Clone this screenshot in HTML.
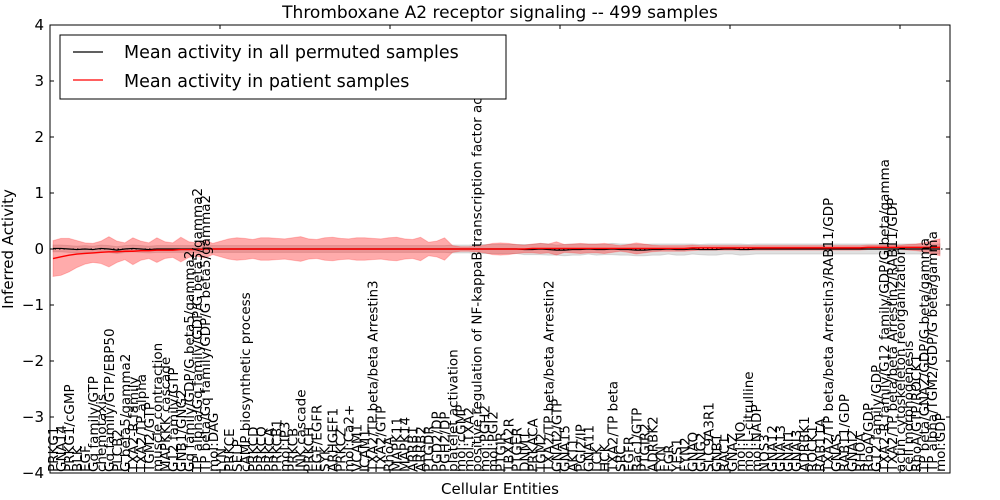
<!DOCTYPE html>
<html><head><meta charset="utf-8"><style>
html,body{margin:0;padding:0;background:#fff;}
svg{display:block;font-family:"DejaVu Sans","Liberation Sans",sans-serif;}
</style></head><body>
<svg id="chart" width="1000" height="500">
<text x="500" y="18" text-anchor="middle" font-size="17">Thromboxane A2 receptor signaling -- 499 samples</text>
<g id="bands"></g>
<g id="lines"></g>
<g id="labels"></g>
<rect x="50" y="25" width="900" height="448" fill="none" stroke="#000" stroke-width="1"/>
<g id="yaxis"></g>
<text x="500" y="494" text-anchor="middle" font-size="15">Cellular Entities</text>
<text transform="translate(13,249) rotate(-90)" text-anchor="middle" font-size="15">Inferred Activity</text>
<g>
<rect x="60" y="35" width="446" height="64" fill="#fff" stroke="#000" stroke-width="1"/>
<line x1="73" y1="52" x2="103" y2="52" stroke="#000" stroke-width="1.2"/>
<text x="124" y="58" font-size="17.5">Mean activity in all permuted samples</text>
<line x1="73" y1="80" x2="103" y2="80" stroke="#f00" stroke-width="1.2"/>
<text x="124" y="87" font-size="17.5">Mean activity in patient samples</text>
</g>
</svg>
<script>
const categories = [
"PRKG1","GNA14","PRKG1/cGMP","BLK","EGF","Gq family/GTP","chemotaxis","Gq family/GTP/EBP50","PLCB2","G beta5/gamma2",
"TXA2-R family","TXA2/TP alpha","TGM2/GTP","muscle contraction","MAPKKK cascade","G12 family/GTP","GNB1/GNG2","Gq family/GDP/G beta5/gamma2","TP alpha/Gq family/GDP/G beta5/gamma2","TP beta/Gq family/GDP/G beta5/gamma2",
"mol:DAG","LYN","PRKCE","SELP","cAMP biosynthetic process","PRKCD","PRKCQ","PRKCA","PRKCB1","mol:IP3",
"PRKCB","JNK cascade","PRKCH","EGF/EGFR","SYK","ARHGEF1","PRKCZ","mol:Ca2+","VCAM1","ICAM1",
"TXA2/TP beta/beta Arrestin3","TXA2/GTP","RhoA","MAPK11","MAPK14","ARRB1","ARRB2","PTGDR","PGD2/DP","PGH2/DP",
"platelet activation","mol:cGMP","mol:TXA2","positive regulation of NF-kappaB transcription factor activity","mol:PGH2","mol:PGI2","PTGIR","TBXA2R","PTGER","DNM1",
"PRKACA","TGM2","TXA2/TP beta/beta Arrestin2","GNAI2/GTP","GNA15","AKT1","PGI2/IP","GNA11","LCK","HCK",
"TXA2/TP beta","SRC","EGFR","Rac1/GTP","PTGIR2","ADRBK2","FYN","FGR","YES1","FYN2",
"GNAQ","GNG2","SLC9A3R1","GNB1","RAC1","GNAZ","mol:NO","mol:L-citrulline","mol:NADP","NOS3",
"GNA12","GNA13","GNAI1","GNAI3","ADRBK1","ROCK1","RAB11A","TXA2/TP beta/beta Arrestin3/RAB11/GDP","GNAS","RAB11/GDP",
"GNAI2","RHOA","RhoA/GDP","G12 family/GDP","TXA2-R family/G12 family/GDP/G beta/gamma","TXA2/TP beta/beta Arrestin2/RAB11/GDP","actin cytoskeleton reorganization","cell morphogenesis","RhoA/GTP/ROCK1","TP beta/GNAZ/GDP/G beta/gamma",
"TP alpha/TGM2/GDP/G beta/gamma","mol:GDP"];
const permutedMean = [
0.01,0.01,0.0,-0.01,0.0,-0.01,0.01,0.0,-0.02,0.0,0.01,0.0,-0.01,0.0,0.0,0.0,0.0,0.0,0.0,0.0,0.0,0.0,0.0,0.0,0.0,
0.0,0.0,0.0,0.0,0.0,0.0,0.0,0.0,0.0,0.0,0.0,0.0,0.0,0.0,0.0,0.0,0.0,0.0,0.0,0.0,0.0,0.0,0.0,0.0,0.0,
0.0,0.0,0.0,0.0,0.0,0.0,0.0,0.0,0.0,-0.01,-0.01,0.0,-0.01,-0.02,-0.02,-0.01,-0.01,0.0,-0.01,-0.01,0.0,-0.01,-0.01,-0.02,-0.02,
-0.01,-0.01,0.0,-0.01,-0.01,0.0,-0.01,-0.01,-0.01,0.0,0.0,-0.01,-0.01,0.0,0.0,0.0,0.0,0.0,0.0,0.0,0.0,0.0,0.0,0.0,0.0,
0.0,0.0,0.0,0.0,0.0,0.0,0.0,0.0,0.0,0.0,0.0,0.0];
const patientMean = [
-0.17,-0.14,-0.11,-0.09,-0.08,-0.07,-0.06,-0.05,-0.05,-0.04,-0.04,-0.03,-0.03,-0.02,-0.02,-0.02,-0.01,-0.01,-0.01,0.0,0.0,0.0,0.0,0.0,0.0,
0.0,0.0,0.0,0.0,0.0,0.0,0.0,0.0,0.0,0.0,0.0,0.0,0.0,0.0,0.0,0.0,0.0,0.0,0.0,0.0,0.0,0.0,0.0,0.0,0.0,
0.0,0.0,0.0,0.0,0.0,0.0,0.0,0.0,0.0,0.0,0.01,0.01,0.01,0.01,0.01,0.01,0.01,0.01,0.01,0.01,0.01,0.01,0.01,0.01,0.01,
0.01,0.01,0.01,0.01,0.01,0.02,0.02,0.02,0.02,0.02,0.02,0.02,0.02,0.02,0.02,0.02,0.02,0.02,0.02,0.02,0.02,0.02,0.02,0.02,0.02,
0.02,0.02,0.03,0.03,0.03,0.03,0.03,0.03,0.03,0.03,0.03,0.03];
const patientSpread = [
0.32,0.33,0.3,0.24,0.19,0.17,0.2,0.27,0.19,0.15,0.24,0.17,0.14,0.22,0.15,0.13,0.22,0.14,0.12,0.16,0.1,0.14,0.18,0.2,0.19,
0.17,0.2,0.2,0.19,0.18,0.2,0.22,0.18,0.17,0.2,0.21,0.19,0.18,0.2,0.2,0.19,0.18,0.2,0.21,0.18,0.17,0.21,0.12,0.14,0.2,
0.06,0.04,0.04,0.05,0.07,0.1,0.11,0.1,0.08,0.07,0.08,0.09,0.08,0.12,0.07,0.08,0.09,0.08,0.08,0.09,0.07,0.05,0.07,0.1,0.08,
0.06,0.05,0.05,0.05,0.05,0.05,0.04,0.04,0.04,0.04,0.04,0.04,0.04,0.04,0.04,0.04,0.04,0.04,0.04,0.04,0.04,0.04,0.04,0.04,0.04,
0.04,0.04,0.04,0.04,0.04,0.04,0.04,0.05,0.06,0.08,0.12,0.15];
const permutedSpread = [
0.06,0.06,0.06,0.06,0.06,0.06,0.06,0.06,0.06,0.06,0.06,0.06,0.06,0.06,0.06,0.06,0.06,0.06,0.06,0.06,0.06,0.06,0.06,0.06,0.06,
0.06,0.06,0.06,0.06,0.06,0.06,0.06,0.06,0.06,0.06,0.06,0.06,0.06,0.06,0.06,0.06,0.06,0.06,0.06,0.06,0.06,0.06,0.06,0.06,0.06,
0.07,0.07,0.07,0.08,0.08,0.08,0.08,0.08,0.08,0.09,0.09,0.1,0.1,0.09,0.1,0.1,0.1,0.09,0.1,0.09,0.1,0.1,0.1,0.1,0.1,
0.1,0.1,0.09,0.1,0.1,0.09,0.09,0.1,0.1,0.09,0.09,0.1,0.09,0.09,0.09,0.09,0.09,0.09,0.09,0.09,0.09,0.09,0.09,0.09,0.09,
0.09,0.09,0.09,0.09,0.09,0.09,0.09,0.09,0.09,0.09,0.09,0.09];
const yTicks = [4,3,2,1,0,-1,-2,-3,-4];
const yTickLabels = ["4","3","2","1","0","\u22121","\u22122","\u22123","\u22124"];

const NS="http://www.w3.org/2000/svg";
const L=50,R=950,T=25,B=473;
const n=categories.length;
const xs=i=>53+i*(887/(n-1));
const ys=v=>T+(4-v)*(B-T)/8;
function mk(tag,attrs,parent){const e=document.createElementNS(NS,tag);for(const k in attrs)e.setAttribute(k,attrs[k]);parent.appendChild(e);return e;}
function band(mean,spread){const m=Math.min(mean.length,spread.length);let up=[],dn=[];for(let i=0;i<m;i++){up.push(xs(i)+","+ys(mean[i]+spread[i]));dn.unshift(xs(i)+","+ys(mean[i]-spread[i]));}return up.concat(dn).join(" ");}
const bands=document.getElementById('bands');
const gb=mk('polygon',{points:band(permutedMean,permutedSpread),fill:'#bbbbbb','fill-opacity':'0.45',stroke:'#aaa','stroke-opacity':'0.4'},bands);


const rb=mk('polygon',{points:band(patientMean,patientSpread),fill:'#f00','fill-opacity':'0.33',stroke:'#f00','stroke-opacity':'0.2'},bands);


const lines=document.getElementById('lines');
const zl=mk('line',{x1:L,x2:R,y1:ys(0),y2:ys(0),stroke:'#000','stroke-width':1,'stroke-dasharray':'1.5,3'},lines);


const pl=mk('polyline',{points:permutedMean.map((v,i)=>xs(i)+","+ys(v)).join(" "),fill:'none',stroke:'#000','stroke-width':1.2},lines);


const rl=mk('polyline',{points:patientMean.map((v,i)=>xs(i)+","+ys(v)).join(" "),fill:'none',stroke:'#f00','stroke-width':1.4},lines);


const lab=document.getElementById('labels');
categories.forEach((c,i)=>{const x=xs(i)+5;const t=mk('text',{transform:`translate(${x},${B-1}) rotate(-90)`,'font-size':'13.5'},lab);t.textContent=c;

});
const ya=document.getElementById('yaxis');
yTicks.forEach((v,i)=>{const y=ys(v);mk('line',{x1:L,x2:L+4,y1:y,y2:y,stroke:'#000'},ya);mk('line',{x1:R,x2:R-4,y1:y,y2:y,stroke:'#000'},ya);
const t=mk('text',{x:L-6,y:y+5,'text-anchor':'end','font-size':'15'},ya);t.textContent=yTickLabels[i];

});
for(let x=L;x<=R;x+=170){mk('line',{x1:x,x2:x,y1:T,y2:T+4,stroke:'#000'},ya);mk('line',{x1:x,x2:x,y1:B,y2:B-4,stroke:'#000'},ya);}
</script>
</body></html>
